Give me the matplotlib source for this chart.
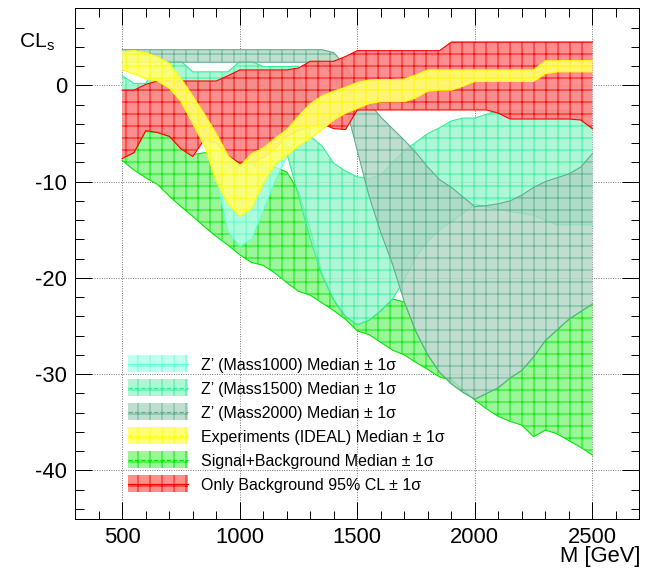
import matplotlib
matplotlib.use('Agg')
import matplotlib.pyplot as plt
from matplotlib.patches import Rectangle
from matplotlib.lines import Line2D
from matplotlib.ticker import MultipleLocator

plt.rcParams['font.family'] = ['Liberation Sans', 'DejaVu Sans']
plt.rcParams['axes.unicode_minus'] = False
plt.rcParams['hatch.linewidth'] = 1.0
plt.rcParams['mathtext.fontset'] = 'custom'
plt.rcParams['mathtext.rm'] = 'Liberation Sans'

# mass points, GeV
mass = [500, 550, 600, 650, 700, 750, 800, 850, 900, 950,
        1000, 1050, 1100, 1150, 1200, 1250, 1300, 1350, 1400, 1450,
        1500, 1550, 1600, 1650, 1700, 1750, 1800, 1850, 1900, 1950,
        2000, 2050, 2100, 2150, 2200, 2250, 2300, 2350, 2400, 2450, 2500]

# only background, 95% CL +- 1 sigma
bkg_hi = [-0.5, -0.5, 0.1, 0.45, 0.45, 0.45, 0.45, 0.45, 0.45, 1.0,
          1.6, 1.6, 1.6, 1.6, 1.6, 1.8, 2.5, 2.5, 2.5, 3.0,
          3.6, 3.6, 3.6, 3.6, 3.6, 3.6, 3.6, 3.6, 4.5, 4.5,
          4.5, 4.5, 4.5, 4.5, 4.5, 4.5, 4.5, 4.5, 4.5, 4.5, 4.5]
bkg_lo = [-7.6, -7.0, -4.7, -4.9, -5.3, -6.6, -7.4, -5.6, -6.0, -7.3,
          -8.1, -8.0, -7.5, -6.6, -5.3, -4.7, -4.3, -4.0, -4.5, -4.6,
          -2.56, -2.56, -2.56, -2.56, -2.56, -2.56, -2.56, -2.56, -2.56, -2.56,
          -2.56, -2.56, -2.9, -3.5, -3.5, -3.5, -3.5, -3.5, -3.5, -3.6, -4.5]

# experiments (IDEAL)
exp_hi = [3.5, 3.6, 3.4, 2.95, 2.3, 0.7, -1.1, -3.0, -5.0, -7.3,
          -8.4, -7.1, -6.5, -5.5, -4.6, -3.2, -1.9, -1.1, -0.6, -0.2,
          0.3, 0.55, 0.6, 0.6, 0.65, 1.1, 1.6, 1.6, 1.6, 1.6,
          1.6, 1.6, 1.6, 1.6, 1.6, 1.6, 2.55, 2.55, 2.55, 2.55, 2.55]
exp_lo = [1.6, 1.2, 0.65, 0.45, -0.3, -1.7, -4.0, -6.3, -10.0, -12.3,
          -13.6, -12.8, -10.2, -8.2, -7.3, -6.3, -5.5, -4.6, -3.6, -2.9,
          -2.4, -1.9, -1.7, -1.7, -1.7, -1.3, -0.6, -0.5, -0.5, -0.1,
          0.4, 0.4, 0.4, 0.4, 0.4, 0.4, 1.2, 1.4, 1.4, 1.4, 1.4]

# signal + background
sb_hi = [-7.6, -7.0, -4.8, -4.9, -5.3, -6.4, -7.2, -7.0, -7.0, -7.5,
         -8.0, -8.0, -8.0, -8.5, -9.0, -11.0, -15.0, -19.5, -22.3, -24.0,
         -24.8, -24.4, -23.4, -22.2, -22.5, -25.6, -28.0, -29.8, -31.0, -31.9,
         -32.6, -32.0, -31.4, -30.4, -29.6, -28.2, -26.5, -25.4, -24.3, -23.5, -22.7]
sb_lo = [-7.8, -8.8, -9.6, -10.3, -11.5, -12.6, -13.6, -14.7, -15.7, -16.6,
         -17.6, -18.4, -18.7, -19.5, -20.5, -21.4, -21.8, -22.6, -23.4, -24.3,
         -25.5, -25.9, -26.7, -27.5, -28.0, -28.8, -29.5, -30.3, -30.6, -31.6,
         -32.7, -33.6, -34.4, -34.9, -35.3, -36.5, -35.8, -36.2, -36.9, -37.6, -38.4]

# Z' signal, M = 1000
z1000_hi = [0.0, 0.0, 0.0, 0.0, 0.0, 0.0, 0.0, -2.0, -5.0, -7.0,
            -8.0, -7.0, -5.0, -3.0, -1.0, 0.0, 0.0, 0.0, 0.0, 0.0,
            0.0, 0.0, 0.0, 0.0, 0.0, 0.0, 0.0, 0.0, 0.0, 0.0,
            0.0, 0.0, 0.0, 0.0, 0.0, 0.0, 0.0, 0.0, 0.0, 0.0, 0.0]
z1000_lo = [-1.0, -1.0, -1.0, -1.0, -1.0, -1.0, -1.0, -3.5, -9.6, -15.2,
            -16.7, -16.0, -13.0, -9.9, -7.4, -5.8, -4.0, -3.0, -2.0, -2.0,
            -2.0, -2.0, -2.0, -2.0, -2.0, -2.0, -2.0, -2.0, -2.0, -2.0,
            -2.0, -2.0, -2.0, -2.0, -2.0, -2.0, -2.0, -2.0, -2.0, -2.0, -2.0]

# Z' signal, M = 1500
z1500_hi = [1.0, 0.2, 0.2, 2.5, 2.5, 2.5, 1.4, 1.4, 1.4, 1.4,
            2.5, 2.5, 1.95, 1.95, 1.95, 2.0, -5.3, -6.3, -8.1, -8.9,
            -9.5, -9.7, -9.3, -8.0, -6.8, -5.9, -5.0, -4.4, -3.7, -3.4,
            -3.4, -3.0, -2.6, -2.6, -2.6, -2.6, -2.6, -2.6, -2.6, -3.5, -4.5]
z1500_lo = [-0.5, -0.5, -0.5, -0.5, -0.5, -0.5, -0.5, -0.5, -0.5, -0.5,
            -0.5, -0.5, 0.0, -4.5, -7.0, -11.5, -16.0, -19.8, -22.3, -24.0,
            -24.9, -24.4, -23.4, -22.2, -20.2, -17.8, -16.2, -15.0, -14.2, -13.3,
            -12.4, -12.6, -12.9, -13.1, -13.3, -13.5, -14.0, -14.5, -14.5, -14.5, -14.5]

# Z' signal, M = 2000
z2000_hi = [3.7, 3.7, 3.7, 3.7, 3.7, 3.7, 3.7, 3.7, 3.7, 3.7,
            3.7, 3.7, 3.7, 3.7, 3.7, 3.7, 3.7, 3.7, 3.4, 2.0,
            0.0, -1.8, -3.3, -4.5, -5.7, -7.0, -8.5, -9.8, -10.6, -11.6,
            -12.6, -12.5, -12.3, -12.0, -11.4, -10.6, -10.0, -9.6, -9.2, -8.5, -7.1]
z2000_lo = [2.4, 2.4, 2.4, 2.4, 2.4, 2.4, 2.4, 2.4, 2.4, 2.4,
            2.4, 2.4, 2.4, 2.4, 2.4, 2.4, 2.4, 2.3, 1.0, -2.0,
            -6.8, -11.5, -15.3, -18.6, -22.5, -25.6, -28.0, -29.8, -31.0, -31.9,
            -32.6, -32.0, -31.4, -30.4, -29.6, -28.2, -26.5, -25.4, -24.3, -23.5, -22.7]

labels = ["Z\u2019 (Mass1000) Median \u00b1 1\u03c3",
          "Z\u2019 (Mass1500) Median \u00b1 1\u03c3",
          "Z\u2019 (Mass2000) Median \u00b1 1\u03c3",
          "Experiments (IDEAL) Median \u00b1 1\u03c3",
          "Signal+Background Median \u00b1 1\u03c3",
          "Only Background 95% CL \u00b1 1\u03c3"]
line_colors = ['#66ffd9', '#33ee99', '#5fae8c', '#ffff00', '#00e600', '#ff0000']
fill_colors = ['#b3ffee', '#99f5cc', '#afd6c5', '#ffff70', '#80f580', '#ff8080']
fill_alpha = [0.8, 0.8, 0.8, 0.92, 0.8, 0.88]
med_style = ['-', '--', '--', '--', '--', '-']

lows = [z1000_lo, z1500_lo, z2000_lo, exp_lo, sb_lo, bkg_lo]
highs = [z1000_hi, z1500_hi, z2000_hi, exp_hi, sb_hi, bkg_hi]
zorders = [3, 4, 5, 7, 2, 6]

fig = plt.figure(figsize=(650 / 72, 572 / 72), dpi=72)
ax = fig.add_axes([0.1157, 0.0934, 0.868, 0.8921])

for lo, hi, lc, fc, a, z in zip(lows, highs, line_colors, fill_colors, fill_alpha, zorders):
    ax.fill_between(mass, lo, hi, facecolor=fc, alpha=a, linewidth=0, zorder=z)
    ax.fill_between(mass, lo, hi, facecolor='none', edgecolor=lc, hatch='+',
                    linewidth=0, alpha=0.9, zorder=z)
    ax.plot(mass, lo, color=lc, lw=1.1, zorder=z)
    ax.plot(mass, hi, color=lc, lw=1.1, zorder=z)

ax.set_xlim(300, 2700)
ax.set_ylim(-45, 8)
ax.xaxis.set_major_locator(MultipleLocator(500))
ax.xaxis.set_minor_locator(MultipleLocator(100))
ax.yaxis.set_major_locator(MultipleLocator(10))
ax.yaxis.set_minor_locator(MultipleLocator(2))
ax.tick_params(which='both', direction='in', top=True, right=True, width=1)
ax.tick_params(which='major', length=17, labelsize=22)
ax.tick_params(which='minor', length=8.5)
ax.tick_params(axis='x', pad=8)
ax.tick_params(axis='y', pad=8)
ax.grid(True, which='major', color='black', linestyle=(0, (1, 2)),
        linewidth=0.8, alpha=0.8, zorder=8)
for s in ax.spines.values():
    s.set_linewidth(1)
    s.set_zorder(9)

# legend, drawn by hand without a frame
W, H = 650.0, 572.0
for i, (lab, lc, fc, a, ls) in enumerate(zip(labels, line_colors, fill_colors,
                                              fill_alpha, med_style)):
    top = 355 + 24 * i
    box = (128.3 / W, 1 - (top + 17) / H)
    fig.add_artist(Rectangle(box, 60 / W, 17 / H, transform=fig.transFigure,
                             facecolor=fc, alpha=a, linewidth=0))
    fig.add_artist(Rectangle(box, 60 / W, 17 / H, transform=fig.transFigure,
                             facecolor='none', edgecolor=lc, hatch='+',
                             linewidth=0, alpha=0.9))
    ym = 1 - (top + 8.5) / H
    fig.add_artist(Line2D([128.3 / W, 188.3 / W], [ym, ym], transform=fig.transFigure,
                          color=lc, lw=1.2, ls=ls))
    fig.text(201 / W, 1 - (top + 15) / H, lab, fontsize=16, va='baseline')

fig.text(19 / W, 1 - 47 / H, r'CL$_\mathregular{s}$', fontsize=21, va='baseline')
fig.text(640 / W, 1 - 562 / H, 'M [GeV]', fontsize=22, ha='right', va='baseline')

fig.savefig('out.png', dpi=72)
